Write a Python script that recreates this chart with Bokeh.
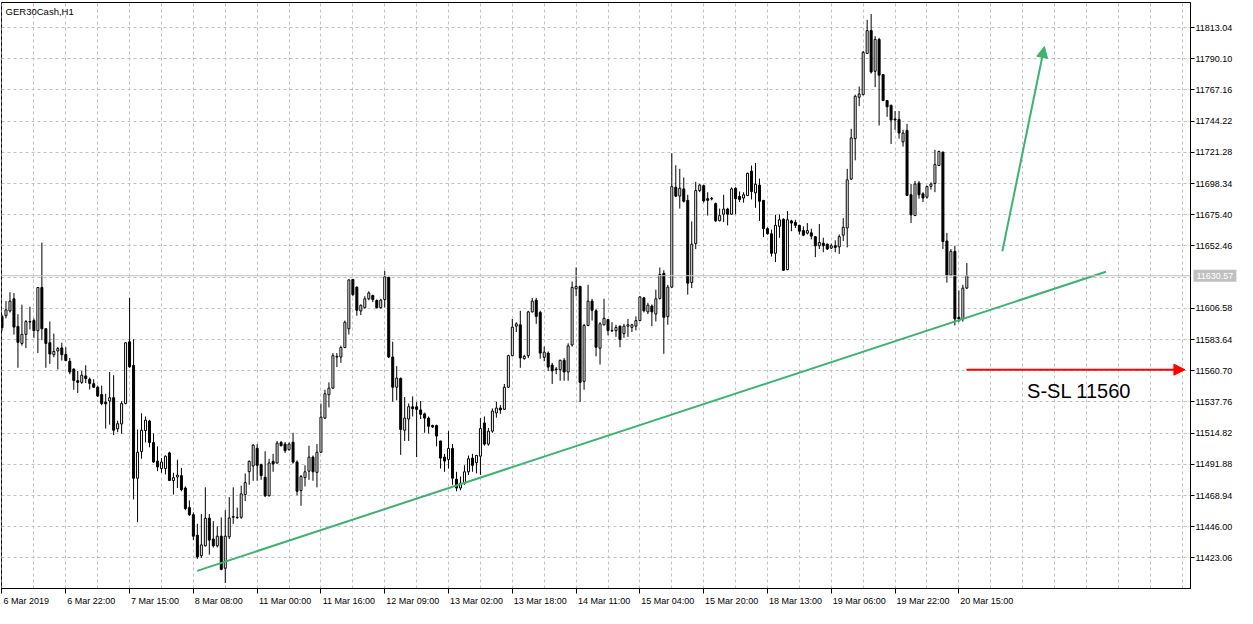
from bokeh.plotting import figure
from bokeh.models import (Range1d, FixedTicker, Label, Arrow, NormalHead, LinearAxis,
                          ColumnDataSource, PrintfTickFormatter, Span)
from bokeh.embed import file_html
from bokeh.resources import INLINE

symbol_title = "GER30Cash,H1"

opens = [
11600.7, 11601.2, 11604.7, 11613.6, 11593.3, 11580.8, 11587.5, 11596.9, 11597.6, 11590.2,
11621.9, 11591.6, 11581.3, 11572.5, 11575.3, 11577.5, 11572.7, 11567.7, 11562.0, 11553.4,
11552.2, 11556.9, 11554.5, 11551.2, 11548.6, 11543.3, 11537.6, 11538.5, 11540.9, 11518.0,
11521.6, 11536.6, 11582.0, 11564.6, 11481.7, 11501.3, 11516.8, 11523.7, 11508.0, 11494.3,
11488.8, 11488.8, 11500.3, 11480.0, 11482.6, 11483.6, 11474.5, 11460.1, 11454.9, 11439.8,
11424.8, 11432.0, 11452.3, 11437.0, 11432.0, 11439.1, 11415.5, 11438.6, 11453.0, 11452.7,
11453.0, 11469.7, 11486.5, 11490.7, 11503.7, 11491.7, 11482.4, 11468.8, 11494.1, 11492.9,
11508.0, 11506.8, 11502.7, 11508.2, 11493.6, 11472.6, 11482.1, 11486.9, 11497.2, 11486.0,
11500.8, 11525.9, 11543.1, 11547.9, 11570.8, 11570.8, 11577.8, 11591.6, 11627.9, 11622.2,
11604.7, 11607.1, 11613.6, 11616.0, 11612.4, 11607.1, 11613.1, 11629.4, 11570.8, 11548.6,
11555.1, 11517.0, 11525.2, 11534.2, 11534.2, 11531.9, 11529.0, 11525.9, 11520.4, 11520.4,
11509.1, 11497.2, 11495.5, 11503.6, 11481.0, 11474.5, 11478.1, 11486.4, 11496.5, 11493.1,
11497.9, 11522.3, 11506.8, 11516.3, 11529.7, 11533.3, 11532.4, 11548.6, 11571.8, 11593.5,
11594.5, 11569.6, 11571.8, 11604.0, 11612.6, 11603.6, 11570.6, 11573.7, 11564.9, 11562.0,
11561.5, 11568.4, 11559.8, 11579.7, 11621.0, 11622.7, 11552.9, 11594.0, 11611.9, 11604.8,
11577.3, 11594.5, 11598.3, 11590.4, 11590.2, 11593.5, 11588.0, 11593.5, 11592.6, 11593.5,
11597.6, 11614.3, 11604.0, 11608.3, 11602.4, 11613.9, 11632.3, 11600.5, 11622.2, 11695.6,
11689.1, 11694.4, 11686.0, 11625.6, 11654.2, 11693.2, 11696.8, 11687.2, 11687.0, 11683.6,
11671.0, 11675.8, 11679.6, 11675.8, 11694.9, 11688.9, 11687.7, 11689.6, 11707.5, 11691.5,
11697.2, 11686.0, 11665.2, 11661.4, 11647.1, 11666.9, 11672.1, 11635.1, 11670.9, 11669.8,
11667.6, 11663.8, 11661.9, 11662.1, 11659.3, 11652.6, 11654.5, 11653.8, 11650.9, 11652.6,
11651.8, 11660.4, 11665.7, 11701.6, 11731.4, 11761.8, 11763.7, 11794.0, 11810.8, 11780.9,
11804.3, 11778.5, 11759.4, 11755.8, 11745.8, 11745.5, 11729.0, 11737.4, 11690.1, 11674.8,
11698.7, 11690.8, 11688.4, 11696.3, 11698.4, 11711.6, 11721.4, 11656.1, 11631.0, 11648.5,
11600.0, 11598.8, 11621.5]

highs = [
11602.0, 11611.9, 11618.4, 11617.9, 11602.3, 11609.3, 11598.0, 11607.8, 11599.2, 11621.9,
11654.9, 11592.1, 11596.9, 11588.0, 11578.2, 11581.3, 11578.0, 11570.1, 11562.4, 11560.5,
11560.5, 11564.8, 11555.7, 11554.5, 11549.8, 11549.8, 11543.8, 11559.8, 11557.4, 11524.0,
11538.3, 11581.3, 11614.3, 11583.9, 11517.5, 11529.5, 11527.1, 11524.7, 11514.6, 11505.1,
11496.5, 11498.4, 11501.2, 11485.7, 11495.3, 11489.3, 11475.7, 11465.4, 11456.6, 11448.2,
11455.4, 11475.0, 11455.4, 11450.1, 11446.3, 11452.9, 11458.2, 11467.8, 11475.0, 11460.1,
11476.2, 11485.2, 11494.8, 11506.8, 11506.8, 11492.4, 11501.5, 11496.0, 11499.6, 11509.1,
11509.1, 11508.4, 11508.0, 11515.1, 11494.8, 11484.1, 11491.2, 11505.6, 11498.4, 11506.8,
11536.6, 11546.7, 11552.2, 11573.7, 11573.7, 11579.2, 11597.6, 11627.9, 11627.9, 11622.7,
11609.5, 11615.5, 11619.1, 11616.7, 11613.1, 11613.6, 11634.2, 11629.8, 11582.1, 11564.1,
11555.8, 11541.4, 11536.6, 11541.9, 11537.8, 11538.5, 11529.9, 11527.1, 11521.1, 11521.1,
11509.1, 11499.6, 11516.3, 11506.8, 11486.4, 11482.9, 11491.2, 11498.4, 11499.6, 11498.9,
11525.9, 11527.1, 11518.7, 11533.0, 11537.9, 11535.5, 11551.0, 11572.5, 11598.8, 11596.4,
11604.8, 11572.5, 11604.8, 11614.3, 11614.3, 11604.8, 11578.5, 11574.9, 11566.5, 11563.4,
11568.9, 11570.1, 11580.9, 11626.3, 11636.6, 11623.2, 11595.2, 11623.9, 11613.6, 11606.0,
11596.4, 11613.6, 11598.8, 11596.4, 11594.5, 11594.0, 11595.2, 11598.8, 11595.2, 11600.7,
11615.5, 11615.0, 11610.7, 11609.5, 11620.3, 11636.6, 11634.6, 11623.9, 11720.7, 11711.8,
11709.2, 11702.8, 11690.1, 11670.5, 11699.6, 11698.0, 11697.5, 11692.0, 11688.4, 11684.4,
11680.0, 11690.1, 11680.5, 11695.6, 11695.6, 11692.5, 11692.0, 11706.3, 11711.6, 11713.5,
11702.0, 11686.0, 11666.2, 11664.5, 11675.3, 11675.7, 11672.9, 11678.1, 11671.7, 11671.7,
11668.1, 11666.9, 11669.3, 11665.2, 11659.7, 11668.6, 11658.5, 11654.2, 11654.2, 11656.6,
11660.9, 11672.9, 11709.2, 11738.6, 11763.7, 11769.7, 11795.9, 11818.7, 11823.0, 11806.7,
11805.5, 11778.5, 11759.4, 11756.5, 11751.7, 11751.7, 11737.9, 11742.2, 11698.0, 11700.3,
11700.3, 11692.0, 11696.8, 11699.2, 11723.1, 11722.6, 11721.9, 11662.1, 11650.2, 11652.6,
11619.8, 11623.9, 11639.9]

lows = [
11590.0, 11599.2, 11603.5, 11587.3, 11562.9, 11579.2, 11577.3, 11591.1, 11584.9, 11573.7,
11583.2, 11562.9, 11565.8, 11570.6, 11561.7, 11568.2, 11567.7, 11558.1, 11546.7, 11544.3,
11551.0, 11551.7, 11546.9, 11548.1, 11541.4, 11535.4, 11518.2, 11521.1, 11513.4, 11515.6,
11514.4, 11536.1, 11562.9, 11466.1, 11449.4, 11496.0, 11508.0, 11504.4, 11492.9, 11486.9,
11485.7, 11484.5, 11480.0, 11469.7, 11474.5, 11472.1, 11458.2, 11453.9, 11436.2, 11422.4,
11423.1, 11431.5, 11425.5, 11430.8, 11430.8, 11414.0, 11404.7, 11437.0, 11448.2, 11451.8,
11451.8, 11464.9, 11476.9, 11479.8, 11479.8, 11480.5, 11467.8, 11468.3, 11486.4, 11492.4,
11505.1, 11500.3, 11502.0, 11492.4, 11469.2, 11461.4, 11475.7, 11480.5, 11479.8, 11475.0,
11500.3, 11525.2, 11533.8, 11547.4, 11563.4, 11566.5, 11577.3, 11587.3, 11615.5, 11601.2,
11601.6, 11606.4, 11612.6, 11611.2, 11606.4, 11606.4, 11607.1, 11570.1, 11537.9, 11539.0,
11498.9, 11509.1, 11509.1, 11527.1, 11497.2, 11525.2, 11515.1, 11514.6, 11518.7, 11505.1,
11488.8, 11486.4, 11488.8, 11476.9, 11472.1, 11472.8, 11476.9, 11484.1, 11486.4, 11485.3,
11484.1, 11505.6, 11505.6, 11515.1, 11526.2, 11529.0, 11531.9, 11548.1, 11571.3, 11589.2,
11562.9, 11568.9, 11570.1, 11603.6, 11595.2, 11569.6, 11567.7, 11560.6, 11551.0, 11558.2,
11553.4, 11553.4, 11553.4, 11578.5, 11615.5, 11537.8, 11546.7, 11593.5, 11597.6, 11571.3,
11565.3, 11594.0, 11586.8, 11589.2, 11585.6, 11578.0, 11584.9, 11585.6, 11589.2, 11590.4,
11597.1, 11603.6, 11602.4, 11593.5, 11596.9, 11613.1, 11573.2, 11594.5, 11621.5, 11688.4,
11680.0, 11684.4, 11616.7, 11621.5, 11650.2, 11692.0, 11684.4, 11674.8, 11686.0, 11670.0,
11670.5, 11670.0, 11667.6, 11675.3, 11675.8, 11684.8, 11684.3, 11689.1, 11686.7, 11680.5,
11670.9, 11659.0, 11660.9, 11644.7, 11640.6, 11658.5, 11634.2, 11634.6, 11663.3, 11665.7,
11660.9, 11659.7, 11660.9, 11657.3, 11644.2, 11650.2, 11647.8, 11649.5, 11650.2, 11647.8,
11646.6, 11656.1, 11651.4, 11701.1, 11715.4, 11755.3, 11763.2, 11793.6, 11779.2, 11769.2,
11741.0, 11758.9, 11747.4, 11727.4, 11737.9, 11731.4, 11725.5, 11689.1, 11669.3, 11674.8,
11687.2, 11684.8, 11687.2, 11693.9, 11692.0, 11711.1, 11650.2, 11625.5, 11630.3, 11594.0,
11596.4, 11596.9, 11620.8]

closes = [
11592.3, 11605.5, 11611.9, 11592.8, 11581.6, 11587.5, 11596.9, 11596.5, 11590.2, 11621.9,
11591.6, 11580.8, 11573.0, 11574.9, 11577.0, 11572.5, 11568.2, 11559.8, 11553.6, 11552.2,
11557.4, 11555.0, 11551.4, 11548.6, 11542.1, 11536.6, 11536.4, 11540.9, 11517.0, 11521.8,
11536.6, 11581.3, 11563.6, 11481.7, 11500.8, 11517.0, 11524.4, 11508.0, 11493.6, 11490.0,
11493.6, 11497.9, 11480.0, 11482.1, 11484.0, 11473.3, 11459.4, 11454.9, 11439.1, 11423.8,
11432.7, 11452.3, 11436.2, 11432.0, 11439.1, 11414.7, 11439.1, 11452.5, 11453.5, 11453.0,
11470.2, 11478.5, 11494.1, 11506.0, 11491.2, 11483.6, 11468.8, 11492.9, 11492.2, 11507.5,
11505.6, 11502.0, 11506.8, 11493.6, 11472.1, 11482.9, 11486.4, 11497.2, 11486.4, 11500.8,
11526.6, 11543.8, 11547.9, 11571.8, 11571.3, 11577.8, 11596.4, 11627.5, 11616.7, 11605.2,
11608.8, 11613.6, 11617.9, 11613.1, 11607.1, 11612.6, 11629.8, 11570.8, 11548.6, 11555.3,
11517.5, 11525.9, 11534.3, 11532.8, 11532.3, 11528.7, 11525.9, 11519.9, 11519.4, 11512.7,
11496.5, 11494.3, 11503.6, 11481.7, 11474.5, 11478.1, 11486.4, 11496.0, 11491.2, 11498.4,
11518.2, 11506.8, 11516.3, 11531.1, 11533.3, 11531.9, 11548.6, 11571.8, 11592.8, 11595.2,
11570.1, 11571.3, 11604.0, 11611.9, 11600.7, 11573.7, 11574.4, 11563.4, 11560.6, 11561.5,
11568.4, 11559.8, 11579.0, 11622.0, 11622.7, 11552.2, 11594.0, 11611.9, 11605.2, 11578.0,
11595.2, 11599.3, 11590.2, 11590.0, 11592.6, 11583.7, 11593.5, 11594.5, 11594.5, 11597.6,
11615.0, 11604.8, 11609.0, 11604.0, 11613.6, 11631.5, 11600.0, 11622.2, 11696.1, 11689.1,
11694.9, 11685.3, 11625.1, 11653.8, 11693.2, 11697.2, 11685.6, 11686.0, 11687.5, 11671.0,
11674.8, 11679.6, 11675.8, 11694.4, 11687.2, 11686.7, 11690.1, 11705.9, 11692.5, 11697.9,
11685.3, 11665.2, 11661.4, 11647.1, 11667.6, 11671.7, 11634.6, 11671.7, 11669.3, 11667.6,
11663.3, 11660.4, 11663.8, 11659.7, 11652.6, 11655.0, 11652.6, 11650.2, 11652.6, 11651.4,
11659.3, 11666.2, 11701.1, 11731.9, 11762.5, 11764.2, 11794.8, 11810.8, 11780.4, 11804.3,
11778.0, 11759.4, 11754.8, 11745.1, 11745.1, 11735.5, 11735.5, 11689.6, 11675.3, 11698.0,
11690.1, 11687.7, 11696.1, 11698.0, 11712.3, 11721.9, 11655.7, 11631.0, 11648.5, 11598.8,
11598.8, 11621.5, 11630.6]

# time-axis labels (one every 16 H1 bars)
time_tick_bars = [0, 16, 32, 48, 64, 80, 96, 112, 128, 144, 160, 176, 192, 208, 224, 240]
time_tick_labels = ["6 Mar 2019", "6 Mar 22:00", "7 Mar 15:00", "8 Mar 08:00",
                    "11 Mar 00:00", "11 Mar 16:00", "12 Mar 09:00", "13 Mar 02:00",
                    "13 Mar 18:00", "14 Mar 11:00", "15 Mar 04:00", "15 Mar 20:00",
                    "18 Mar 13:00", "19 Mar 06:00", "19 Mar 22:00", "20 Mar 15:00"]
grid_bars = list(range(0, 297, 8))

price_ticks = [11423.06, 11446.00, 11468.94, 11491.88, 11514.82, 11537.76, 11560.70,
               11583.64, 11606.58, 11652.46, 11675.40, 11698.34, 11721.28, 11744.22,
               11767.16, 11790.10, 11813.04]
price_grid = price_ticks + [11629.52]
last_price = 11630.57

trend_x = [48.95, 276.9]
trend_y = [11413.6, 11633.5]
up_arrow_x = [250.9, 261.45]
up_arrow_y = [11648.5, 11799.1]
sl_arrow_x = [241.9, 296.7]
sl_price = 11561.5
sl_text = "S-SL 11560"
sl_text_x = 257.1
sl_text_y = 11545.5

x_view = (-0.125, 298.1)
y_view = (11400.62, 11831.46)

n = min(len(opens), len(highs), len(lows), len(closes))
idx = list(range(n))
o, h, l, c = opens[:n], highs[:n], lows[:n], closes[:n]

FONT = "Liberation Sans"
AX_FS = 9
GRID = "#C0C0C0"
W, H = 1237, 608
TAG_PAD = 3
TAG_W = 44          # width of the grey price tag (text + padding)

p = figure(width=W, height=H, x_range=Range1d(*x_view), y_range=Range1d(*y_view),
           y_axis_location="right", output_backend="svg", toolbar_location=None,
           min_border_left=1, min_border_top=2, min_border_right=0, min_border_bottom=0,
           background_fill_color="white", border_fill_color="white")
p.outline_line_color = "black"
p.outline_line_width = 1
p.outline_line_alpha = 1

# grids
p.xgrid.ticker = FixedTicker(ticks=grid_bars)
p.ygrid.ticker = FixedTicker(ticks=price_grid)
for g in (p.xgrid, p.ygrid):
    g.grid_line_color = GRID
    g.grid_line_dash = "3 3"
    g.grid_line_width = 1

# x axis: tick marks (minor) sit on the bars, labels start just right of them
CHAR_W = {" ": 0.278, ":": 0.278, "M": 0.833, "a": 0.556, "r": 0.333}
def text_width(s, size):
    return sum(CHAR_W.get(ch, 0.556) for ch in s) * size

frame_w = W - 1 - 44
px_per_bar = frame_w / (x_view[1] - x_view[0])
label_pos = [b + (text_width(t, AX_FS) / 2 + 1.5) / px_per_bar
             for b, t in zip(time_tick_bars, time_tick_labels)]

xa = p.xaxis[0]
xa.ticker = FixedTicker(ticks=label_pos, minor_ticks=time_tick_bars)
xa.major_label_overrides = {pos: t for pos, t in zip(label_pos, time_tick_labels)}
xa.major_label_standoff = 2
xa.major_tick_line_color = None
xa.major_tick_in = 0
xa.major_tick_out = 5
xa.minor_tick_line_color = "black"
xa.minor_tick_in = 0
xa.minor_tick_out = 5
xa.axis_line_color = "black"
xa.major_label_text_font = FONT
xa.major_label_text_font_size = "%dpx" % AX_FS
xa.major_label_text_color = "black"

# price axis, part 1: axis line and tick marks only (ticks given as minor ticks -> no labels)
ya = p.yaxis[0]
ya.ticker = FixedTicker(ticks=[], minor_ticks=price_ticks)
ya.major_label_standoff = 0
ya.major_tick_line_color = None
ya.major_tick_in = 0
ya.major_tick_out = 4
ya.minor_tick_line_color = "black"
ya.minor_tick_in = 0
ya.minor_tick_out = 4
ya.axis_line_color = "black"

# current price line
p.add_layout(Span(location=last_price, dimension="width", line_color=GRID, line_width=1))

# candles
up = [ci >= oi for oi, ci in zip(o, c)]
def pick(flag):
    return dict(
        x=[i for i, u in zip(idx, up) if u == flag],
        top=[max(a, b) for a, b, u in zip(o, c, up) if u == flag],
        bottom=[min(a, b) for a, b, u in zip(o, c, up) if u == flag])
p.segment(x0=idx, y0=l, x1=idx, y1=h, line_color="black", line_width=1)
p.vbar(x="x", top="top", bottom="bottom", width=0.5, source=ColumnDataSource(pick(True)),
       fill_color="white", line_color="black", line_width=1)
p.vbar(x="x", top="top", bottom="bottom", width=0.5, source=ColumnDataSource(pick(False)),
       fill_color="black", line_color="black", line_width=1)

# trend line
p.line(trend_x, trend_y, line_color="#3CB371", line_width=2)

# arrows
p.add_layout(Arrow(end=NormalHead(size=11, fill_color="#3CB371", line_color="#3CB371"),
                   x_start=up_arrow_x[0], y_start=up_arrow_y[0],
                   x_end=up_arrow_x[1], y_end=up_arrow_y[1],
                   line_color="#3CB371", line_width=2))
p.add_layout(Arrow(end=NormalHead(size=11, fill_color="red", line_color="red"),
                   x_start=sl_arrow_x[0], y_start=sl_price,
                   x_end=sl_arrow_x[1], y_end=sl_price,
                   line_color="red", line_width=2))

p.add_layout(Label(x=sl_text_x, y=sl_text_y, text=sl_text, text_font=FONT,
                   text_font_size="20px", text_color="black", text_baseline="alphabetic"))

# title
p.add_layout(Label(x=0.9, y=y_view[1] - 2.5, text=symbol_title, text_font=FONT,
                   text_font_size="9.5px", text_color="black", text_baseline="top"))

# current price tag (side panel so it is not clipped to the frame)
p.add_layout(Label(x=x_view[1], y=last_price, x_offset=3, text="%.2f" % last_price,
                   text_font=FONT, text_font_size="%dpx" % AX_FS, text_color="white",
                   text_baseline="middle", background_fill_color=GRID, padding=TAG_PAD),
             "right")

# price axis, part 2: the tick labels, pulled back over the tag's slot
ya2 = LinearAxis(ticker=FixedTicker(ticks=price_ticks),
                 formatter=PrintfTickFormatter(format="%.2f"),
                 major_label_standoff=-(TAG_W - 2),
                 major_tick_in=0, major_tick_out=0,
                 major_tick_line_color=None, minor_tick_line_color=None,
                 axis_line_color=None,
                 major_label_text_font=FONT, major_label_text_font_size="%dpx" % AX_FS,
                 major_label_text_color="black")
p.add_layout(ya2, "right")

open("out.html", "w").write(file_html(p, INLINE))
